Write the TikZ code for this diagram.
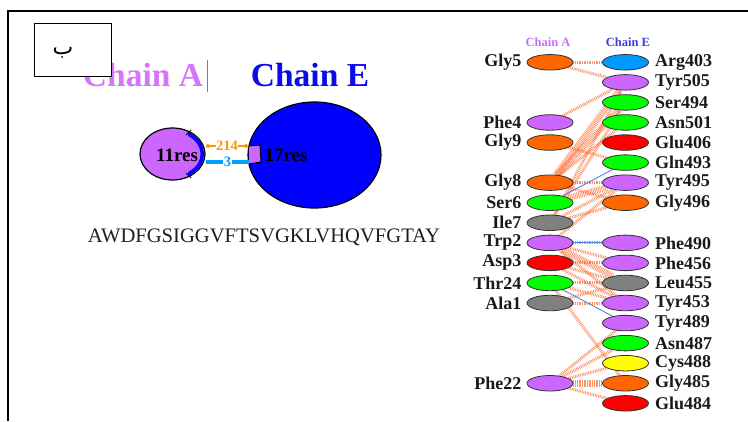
\documentclass[tikz,border=0pt]{standalone}
\usepackage{fontspec}
\setmainfont{Liberation Serif}
\newfontfamily\arabicfont[Script=Arabic]{DejaVu Sans}
\TeXXeTstate=1
\usetikzlibrary{shapes.geometric,backgrounds}
\definecolor{orn}{RGB}{255,102,0}
\definecolor{vio}{RGB}{204,102,255}
\definecolor{grn}{RGB}{0,255,0}
\definecolor{gry}{RGB}{128,128,128}
\definecolor{rd}{RGB}{255,0,0}
\definecolor{yel}{RGB}{255,255,0}
\definecolor{azu}{RGB}{0,153,255}
\definecolor{chA}{RGB}{212,118,248}
\definecolor{chE}{RGB}{10,10,235}
\definecolor{hbc}{RGB}{255,100,40}
\definecolor{blc}{RGB}{80,130,230}
\definecolor{c214}{RGB}{255,150,0}
\definecolor{c3}{RGB}{0,160,255}
\begin{document}
\begin{tikzpicture}[x=1pt,y=-1pt,
  res/.style={ellipse, draw={rgb,255:red,50;green,50;blue,50}, line width=0.8pt, minimum width=46pt, minimum height=15.5pt, inner sep=0pt},
  lab/.style={font=\bfseries\fontsize{18}{19}\selectfont, inner sep=0pt, text={rgb,255:red,25;green,25;blue,25}},
  hb/.style={draw=hbc, line width=3pt, dash pattern=on 0.8pt off 0.9pt, opacity=0.7},
  hbw/.style={hb, line width=6.5pt},
  bl/.style={draw=blc, line width=0.9pt}]
\useasboundingbox (0,0) rectangle (748,421);
% frame
\draw[line width=1.5pt] (8,421) -- (8,11) -- (748,11);
% big titles
\node[font=\bfseries\fontsize{33.5}{36}\selectfont, text=chA, inner sep=0pt] (tA) at (143,75) {Chain A};
\node[font=\bfseries\fontsize{33.5}{36}\selectfont, text=chE, inner sep=0pt] (tE) at (310,75) {Chain E};
\draw[gray, line width=0.8pt] (207,60) -- (207,92);
% arabic box
\node[draw, fill=white, line width=0.8pt, minimum width=77pt, minimum height=53pt, anchor=north west, inner sep=0pt] (bbox) at (34,23) {};
\node[font=\arabicfont\fontsize{22}{24}\selectfont, inner sep=0pt] (ba) at (63,53) {\beginR ب\endR};
% circles
\node[ellipse, draw, line width=1.2pt, fill=vio, minimum width=65pt, minimum height=52pt, inner sep=0pt] (cA) at (172.5,154) {};
\node[ellipse, draw, line width=1.2pt, fill=blue, minimum width=133pt, minimum height=106pt, inner sep=0pt] (cE) at (314.5,155) {};
\begin{scope}
\clip (188,120) rectangle (215,190);
\draw[blue, line width=3.5pt] (cA.center) ellipse [x radius=29.8pt, y radius=23.5pt];
\end{scope}
\draw[line width=0.9pt] (186,135) -- (191,130);
\draw[line width=0.9pt] (186,173) -- (191,178);
\filldraw[fill=vio, draw=black, line width=1pt] (249,146) -- (260,145) -- (261,162) -- (249,164);
\node[font=\bfseries\fontsize{19}{20}\selectfont, inner sep=0pt] (tA11) at (177,155) {11res};
\node[font=\bfseries\fontsize{19}{20}\selectfont, inner sep=0pt] (tE17) at (286,155) {17res};
% 214 / 3 connectors
\coordinate (o1) at (208,146);
\coordinate (o2) at (246,146);
\coordinate (b1) at (206,162);
\coordinate (b2) at (249,162);
\draw[c214, line width=1.8pt] (o1) -- node[fill=white, inner sep=0.3pt, text=c214, font=\bfseries\fontsize{14.5}{15}\selectfont] (l214) {214} (o2);
\fill[c214] (o1) circle (2pt) (o2) circle (2pt);
\draw[c3, line width=3.5pt] (b1) -- node[fill=white, inner sep=0.6pt, text=c3, font=\bfseries\fontsize{14.5}{15}\selectfont] (l3) {3} (b2);
% sequence
\node[font=\fontsize{20.6}{22}\selectfont, text={rgb,255:red,30;green,30;blue,30}, inner sep=0pt] (seq) at (264,237) {AWDFGSIGGVFTSVGKLVHQVFGTAY};
% right panel headers
\node[font=\bfseries\fontsize{12.5}{14}\selectfont, text={rgb,255:red,200;green,110;blue,250}, inner sep=0pt] (hA) at (548,42) {Chain A};
\node[font=\bfseries\fontsize{12.5}{14}\selectfont, text={rgb,255:red,60;green,60;blue,230}, inner sep=0pt] (hE) at (628,42) {Chain E};
% residues
\foreach \nm/\r/\c in {Gly5/0/orn, Phe4/3/vio, Gly9/4/orn, Gly8/6/orn, Ser6/7/grn, Ile7/8/gry, Trp2/9/vio, Asp3/10/rd, Thr24/11/grn, Ala1/12/gry, Phe22/16/vio}{
  \node[res, fill=\c] (\nm) at (550,62.3+20.06*\r) {};
  \node[lab, anchor=east] (\nm-t) at ([xshift=-5pt]\nm.west) {\nm};
}
\foreach \nm/\r/\c in {Arg403/0/azu, Tyr505/1/vio, Ser494/2/grn, Asn501/3/grn, Glu406/4/rd, Gln493/5/grn, Tyr495/6/vio, Gly496/7/orn, Phe490/9/vio, Phe456/10/vio, Leu455/11/gry, Tyr453/12/vio, Tyr489/13/vio, Asn487/14/grn, Cys488/15/yel, Gly485/16/orn, Glu484/17/rd}{
  \node[res, fill=\c] (\nm) at (625.5,62.3+20.06*\r) {};
  \node[lab, anchor=west] (\nm-t) at ([xshift=6pt]\nm.east) {\nm};
}
% contacts
\begin{pgfonlayer}{background}
\foreach \a/\b in {Gly5/Arg403, Gly5/Tyr505, Phe4/Tyr505, Gly9/Gln493, Gly8/Asn501, Ile7/Ser494, Ile7/Tyr505, Gly8/Tyr495, Gly8/Gly496, Ile7/Tyr495, Ile7/Gly496, Trp2/Tyr495, Trp2/Phe490, Trp2/Phe456, Trp2/Tyr453, Asp3/Phe456, Asp3/Leu455, Asp3/Tyr453, Thr24/Leu455, Thr24/Tyr453, Ala1/Leu455, Ala1/Tyr453, Thr24/Gly485, Phe22/Tyr489, Phe22/Asn487, Phe22/Cys488, Phe22/Glu484}{
  \draw[hb] (\a) -- (\b);
}
\foreach \a/\b in {Gly8/Tyr505, Gly8/Ser494, Ser6/Tyr495, Trp2/Leu455, Phe22/Gly485}{
  \draw[hbw] (\a) -- (\b);
}
\foreach \a/\b in {Ser6/Gln493, Thr24/Tyr489, Trp2/Phe490}{
  \draw[bl] (\a) -- (\b);
}
\end{pgfonlayer}
\end{tikzpicture}
\end{document}
